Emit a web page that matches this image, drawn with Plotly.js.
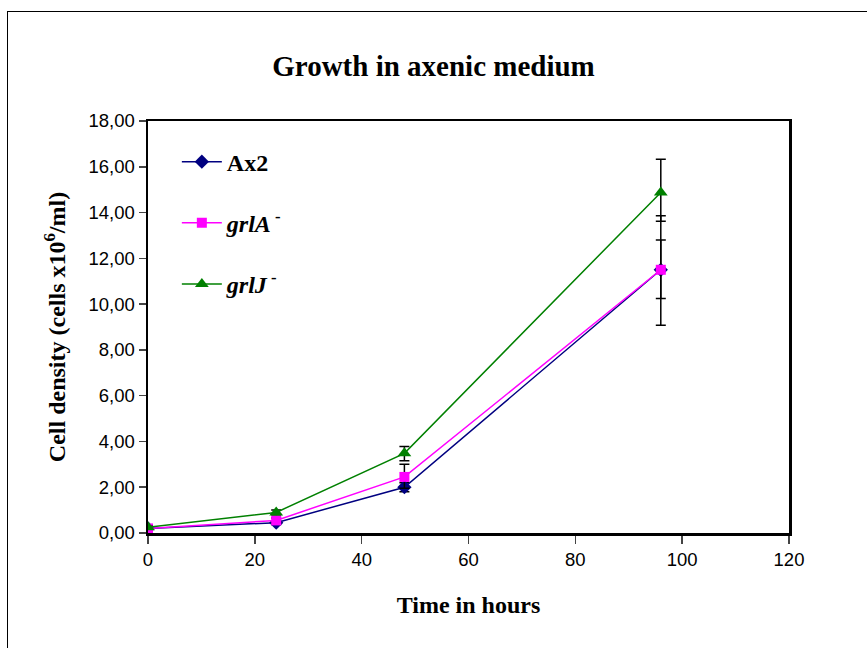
<!DOCTYPE html>
<html>
<head>
<meta charset="utf-8">
<script src="https://cdn.plot.ly/plotly-3.0.1.min.js"></script>
<style>
  html, body { margin: 0; padding: 0; overflow: hidden; background: #fff; }
  #frame { position: absolute; left: 7px; top: 11px; width: 900px; height: 700px; border: 1px solid #000; }
  #chart { position: absolute; left: 0; top: 0; width: 867px; height: 648px; }
</style>
</head>
<body>
<div id="frame"></div>
<div id="chart"></div>
<script>
const hours = [0, 24, 48, 96];
const ax2 = [0.2, 0.45, 2.0, 11.5];
const ax2ErrPlus = [0.05, 0.08, 0.2, 2.36];
const ax2ErrMinus = [0.05, 0.08, 0.2, 2.42];
const grlA = [0.2, 0.55, 2.45, 11.5];
const grlAErrPlus = [0.05, 0.1, 0.55, 1.3];
const grlAErrMinus = [0.05, 0.1, 0.5, 1.25];
const grlJ = [0.25, 0.9, 3.48, 14.88];
const grlJErrPlus = [0.05, 0.1, 0.3, 1.45];
const grlJErrMinus = [0.05, 0.1, 0.32, 1.26];
const names = ['<b>Ax2</b>', '<b><i>grlA</i><sup> -</sup></b>', '<b><i>grlJ</i><sup> -</sup></b>'];

function err(p, m) {
  return { type: 'data', symmetric: false, array: p, arrayminus: m, color: '#000', thickness: 1.5, width: 5, visible: true };
}

const traces = [
  { x: hours, y: ax2, name: names[0], legendgroup: 'a', mode: 'lines+markers', type: 'scatter',
    line: { color: '#000080', width: 1.5 }, marker: { symbol: 'diamond', size: 11, color: '#000080' },
    error_y: err(ax2ErrPlus, ax2ErrMinus) },
  { x: hours, y: grlA, name: names[1], legendgroup: 'b', mode: 'lines+markers', type: 'scatter',
    line: { color: '#FF00FF', width: 1.5 }, marker: { symbol: 'square', size: 10, color: '#FF00FF' },
    error_y: err(grlAErrPlus, grlAErrMinus) },
  { x: hours, y: grlJ, name: names[2], legendgroup: 'c', mode: 'lines+markers', type: 'scatter',
    line: { color: '#008000', width: 1.5 }, marker: { symbol: 'triangle-up', size: 12, color: '#008000' },
    error_y: err(grlJErrPlus, grlJErrMinus) }
];

const layout = {
  width: 867, height: 648,
  margin: { l: 148, r: 78, t: 121, b: 115 },
  paper_bgcolor: 'rgba(0,0,0,0)',
  plot_bgcolor: '#fff',
  separators: ',.',
  showlegend: true,
  title: { text: '<b>Growth in axenic medium</b>', x: 0.5, xanchor: 'center', y: 0.898, yanchor: 'middle',
    font: { family: 'Liberation Serif', size: 29, color: '#000' } },
  xaxis: {
    range: [0, 120], tickvals: [0, 20, 40, 60, 80, 100, 120], ticks: 'outside', ticklen: 8, tickwidth: 1.5,
    showgrid: false, zeroline: false, showline: true, linewidth: 2.5, linecolor: '#000', mirror: true,
    tickfont: { family: 'Liberation Sans', size: 18.5, color: '#000' },
    title: { text: '<b>Time in hours</b>', standoff: 28, font: { family: 'Liberation Serif', size: 24, color: '#000' } }
  },
  yaxis: {
    range: [0, 18], tickvals: [0, 2, 4, 6, 8, 10, 12, 14, 16, 18], tickformat: '.2f', ticks: 'outside', ticklen: 7, tickwidth: 1.5,
    showgrid: false, zeroline: false, showline: true, linewidth: 2.5, linecolor: '#000', mirror: true,
    tickfont: { family: 'Liberation Sans', size: 18.5, color: '#000' },
    title: { text: '<b>Cell density (cells x10<sup>6</sup>/ml)</b>', standoff: 16, font: { family: 'Liberation Serif', size: 24, color: '#000' } }
  },
  legend: {
    x: 0.045, y: 0.955, xanchor: 'left', yanchor: 'top', bgcolor: 'rgba(0,0,0,0)',
    font: { family: 'Liberation Serif', size: 24, color: '#000' },
    tracegroupgap: 27, itemwidth: 40
  }
};

Plotly.newPlot('chart', traces, layout, { displayModeBar: false, staticPlot: true });
</script>
</body>
</html>
